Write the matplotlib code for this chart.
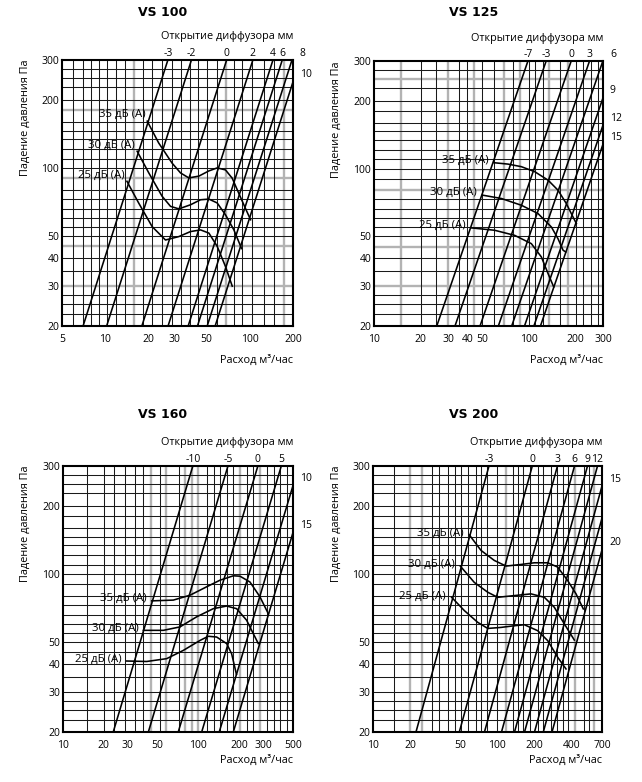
import matplotlib
matplotlib.use('Agg')
import matplotlib.pyplot as plt
import numpy as np
from matplotlib.ticker import FixedLocator, FixedFormatter, NullLocator

plt.rcParams['font.family'] = ['Open Sans', 'DejaVu Sans']

# ---------------- data ----------------
titles = ['VS 100', 'VS 125', 'VS 160', 'VS 200']
x_limits = [(5, 200), (10, 300), (10, 500), (10, 700)]
y_limits = (20, 300)
x_ticks = [[5, 10, 20, 30, 50, 100, 200],
           [10, 20, 30, 40, 50, 100, 200, 300],
           [10, 20, 30, 50, 100, 200, 300, 500],
           [10, 20, 50, 100, 200, 400, 700]]
y_ticks = [20, 30, 40, 50, 100, 200, 300]

# diffuser opening lines: label and flow (m3/h) at 20 Pa  (P ~ Q^2)
vs100_open = ['-3', '-2', '0', '2', '4', '6', '8', '10']
vs100_q20 = [7.0, 10.2, 17.9, 27.2, 37.5, 43.5, 50.8, 57.7]
vs125_open = ['-7', '-3', '0', '3', '6', '9', '12', '15']
vs125_q20 = [25.4, 33.3, 48.3, 63.4, 77.3, 93.5, 107.5, 118.5]
vs160_open = ['-10', '-5', '0', '5', '10', '15']
vs160_q20 = [23.5, 42.7, 71.0, 105.8, 142.6, 181.1]
vs200_open = ['-3', '0', '3', '6', '9', '12', '15', '', '20']
vs200_q20 = [22.2, 49.6, 79.1, 108.5, 138.1, 166.3, 200.1, 235.6, 276.9]

# noise curves (flow m3/h, pressure Pa)
vs100_35_q = [19.5, 23.4, 29.0, 33.2, 37.9, 44.5, 52.2, 59.6, 68.0, 75.8, 84.3, 93.8, 101.6]
vs100_35_p = [161, 129, 105, 95, 90.3, 92, 97, 100, 98, 90, 77, 66, 59]
vs100_30_q = [16.6, 20.0, 24.7, 28.3, 32.3, 38.9, 45.7, 52.2, 59.6, 68.1, 77.8, 88.0]
vs100_30_p = [118.5, 95, 75, 67.6, 65.9, 68.7, 72.3, 72.8, 70, 62, 53.2, 44]
vs100_25_q = [14.1, 17.0, 21.1, 26.1, 32.3, 38.9, 45.7, 52.2, 59.6, 68.1, 75.8]
vs100_25_p = [87.3, 70, 55, 48, 49.7, 52.3, 53.2, 51.5, 45, 36.6, 30]

vs125_35_q = [59.4, 73.2, 89.2, 108.8, 132.6, 153.8, 174, 192, 202]
vs125_35_p = [106.1, 104.6, 101.9, 96.8, 88.8, 80.1, 69.9, 61.0, 57]
vs125_30_q = [50, 66.3, 89.2, 114.3, 139.4, 153.8, 165.7, 172.6]
vs125_30_p = [76.2, 73.6, 68.7, 63.1, 55, 48.8, 43.4, 42.6]
vs125_25_q = [42.5, 60, 80.8, 103.5, 120.1, 132.6, 144.3]
vs125_25_p = [54.5, 53.2, 50.5, 46.4, 40.5, 34.2, 29.8]

vs160_35_q = [45.2, 65.3, 86.7, 115.1, 144.4, 181.2, 202.9, 240.4, 285, 328.5]
vs160_35_p = [76.0, 76.6, 80.5, 87.7, 93.8, 98.1, 97.7, 92.1, 79.2, 66.7]
vs160_30_q = [39.2, 55.1, 73.1, 97.1, 128.9, 161.7, 191.6, 227.2, 254.6, 277.1]
vs160_30_p = [56.3, 56.3, 58.3, 64.6, 70.2, 72.1, 70.2, 62.4, 54.4, 49.2]
vs160_25_q = [29.5, 41.5, 58.3, 77.4, 102.8, 118.4, 136.4, 161.7, 176, 191]
vs160_25_p = [41.2, 41.0, 42.2, 45.9, 50.8, 53.0, 52.6, 49.2, 44.4, 36.0]

vs200_35_q = [59.7, 74.2, 94.9, 118, 155.8, 199.5, 255.6, 307.6, 370.5, 432.5, 495]
vs200_35_p = [148.8, 127, 114.7, 108.3, 110.1, 112, 112, 107.2, 93.4, 81.6, 70.0]
vs200_30_q = [50.5, 65.5, 84, 101, 137.6, 187.6, 240.3, 289, 348.2, 419]
vs200_30_p = [108.3, 91.7, 83.0, 78.8, 80.2, 81.6, 78.8, 71.2, 60.1, 51]
vs200_25_q = [43, 54.5, 69.7, 84, 107.4, 137.6, 165.8, 212.3, 255.6, 307.6, 359]
vs200_25_p = [78.8, 68.8, 61.1, 57.4, 58.0, 59.0, 59.6, 56.1, 50.7, 42.8, 38.0]

noise_labels = ['35 дБ (A)', '30 дБ (A)', '25 дБ (A)']

openings = [(vs100_open, vs100_q20), (vs125_open, vs125_q20),
            (vs160_open, vs160_q20), (vs200_open, vs200_q20)]
curves = [
    [(vs100_35_q, vs100_35_p), (vs100_30_q, vs100_30_p), (vs100_25_q, vs100_25_p)],
    [(vs125_35_q, vs125_35_p), (vs125_30_q, vs125_30_p), (vs125_25_q, vs125_25_p)],
    [(vs160_35_q, vs160_35_p), (vs160_30_q, vs160_30_p), (vs160_25_q, vs160_25_p)],
    [(vs200_35_q, vs200_35_p), (vs200_30_q, vs200_30_p), (vs200_25_q, vs200_25_p)],
]

# ---------------- style / layout ----------------
W, H = 642, 782
axes_px = [(62, 60, 293, 326), (374, 61, 603, 326), (63, 466, 293, 732), (373, 466, 602, 732)]
title_px = [(163, 12), (474, 12), (163, 415), (474, 415)]
xlabel_dy = [34, 34, 28, 28]
label_off = [(-1.5, 4.5), (-4, 2), (-3.5, 1.5), (-4, 1)]

grid_v = [
    [6, 7, 8, 9, 10.2, 11.9, 13.6, 15.7, 18.2, 21, 24.7, 29, 33.6, 38.8, 44, 51, 59.5, 69, 77.8, 88, 104, 125, 147, 173],
    [15, 20, 25, 30, 35.5, 40, 44, 50, 59, 69, 79, 88, 100, 110, 123, 135, 158, 178, 200, 224, 250, 280],
    [15, 20, 24, 28.6, 34, 39, 45, 52, 58, 72, 80, 89, 100, 115, 130, 145, 162, 181, 203, 228, 255, 286, 320, 360, 403, 451],
    [14.9, 20, 25, 29.9, 34.2, 40, 45.8, 51.2, 57.9, 67.6, 74.2, 82.9, 99.8, 118.7, 133.5, 146.5, 160.7, 185, 212, 233, 272, 304, 338, 375, 425, 505, 554, 607],
]
grid_v_gray = [
    [15.7, 69, 173],
    [15, 30, 44, 69, 88, 135, 178],
    [45, 58, 80, 89, 100, 203, 286],
    [20, 25, 118.7, 425, 607],
]
grid_h = [22.5, 25, 27.5, 30, 35, 40, 45, 50, 55, 60, 66, 73, 80, 90, 100, 110, 121, 134, 146, 160, 180, 200, 227, 250, 273]
grid_h_gray = [[30, 45, 90, 180], [30, 45, 80, 250], [], []]

fig = plt.figure(figsize=(W / 100, H / 100), dpi=100)

for i in range(4):
    x0, y0, x1, y1 = axes_px[i]
    ax = fig.add_axes([x0 / W, 1 - y1 / H, (x1 - x0) / W, (y1 - y0) / H])
    ax.set_xscale('log')
    ax.set_yscale('log')
    xmin, xmax = x_limits[i]
    ymin, ymax = y_limits
    ax.set_xlim(xmin, xmax)
    ax.set_ylim(ymin, ymax)

    # grid
    for v in grid_v[i]:
        if v in grid_v_gray[i]:
            ax.axvline(v, color='#b3b3b3', lw=1.7, zorder=1)
        else:
            ax.axvline(v, color='#1a1a1a', lw=0.75, zorder=1.2)
    for h in grid_h:
        if h in grid_h_gray[i]:
            ax.axhline(h, color='#b3b3b3', lw=1.7, zorder=1)
        else:
            ax.axhline(h, color='#1a1a1a', lw=0.75, zorder=1.2)

    # ticks
    ax.xaxis.set_major_locator(FixedLocator(x_ticks[i]))
    ax.xaxis.set_major_formatter(FixedFormatter([str(t) for t in x_ticks[i]]))
    ax.xaxis.set_minor_locator(NullLocator())
    ax.yaxis.set_major_locator(FixedLocator(y_ticks))
    ax.yaxis.set_major_formatter(FixedFormatter([str(t) for t in y_ticks]))
    ax.yaxis.set_minor_locator(NullLocator())
    ax.tick_params(length=0, labelsize=7.5, colors='black')
    ax.tick_params(axis='x', pad=6)
    ax.tick_params(axis='y', pad=2)
    for s in ax.spines.values():
        s.set_linewidth(1.5)
        s.set_zorder(5)

    # diffuser lines
    labs, q20s = openings[i]
    for lab, q20 in zip(labs, q20s):
        q_top = q20 * np.sqrt(ymax / ymin)
        ax.plot([q20, q_top], [ymin, ymax], color='black', lw=1.15, zorder=3,
                solid_capstyle='butt')
        if not lab:
            continue
        if q_top <= xmax * 0.97:
            ax.annotate(lab, (q_top, ymax), xytext=(0, 5), textcoords='offset points',
                        ha='center', va='center', fontsize=7.5, annotation_clip=False)
        else:
            p_exit = min(ymin * (xmax / q20) ** 2, ymax)
            ax.annotate(lab, (xmax, p_exit), xytext=(5, 5), textcoords='offset points',
                        ha='left', va='center', fontsize=7.5, annotation_clip=False)

    # noise curves
    dx, dy = label_off[i]
    for (q, p), nl in zip(curves[i], noise_labels):
        ax.plot(q, p, color='black', lw=1.15, zorder=4)
        ax.annotate(nl, (q[0], p[0]), xytext=(dx, dy), textcoords='offset points',
                    ha='right', va='center', fontsize=8.2, zorder=6)

    # axis texts
    ax.text(1.0, 1 + 23 / (y1 - y0), 'Открытие диффузора мм', transform=ax.transAxes,
            ha='right', va='center', fontsize=7.8)
    ax.text(1.0, -xlabel_dy[i] / (y1 - y0), 'Расход м³/час', transform=ax.transAxes,
            ha='right', va='center', fontsize=7.8)
    ax.text(-(x0 - (25 if i % 2 == 0 else 336)) / (x1 - x0), 1.0, 'Падение давления Па',
            transform=ax.transAxes, rotation=90, ha='center', va='top', fontsize=7.8)

    tx, ty = title_px[i]
    fig.text(tx / W, 1 - ty / H, titles[i], ha='center', va='center',
             fontsize=9, fontweight='bold', family='DejaVu Sans')

fig.savefig('out.png', dpi=100, facecolor='white')
